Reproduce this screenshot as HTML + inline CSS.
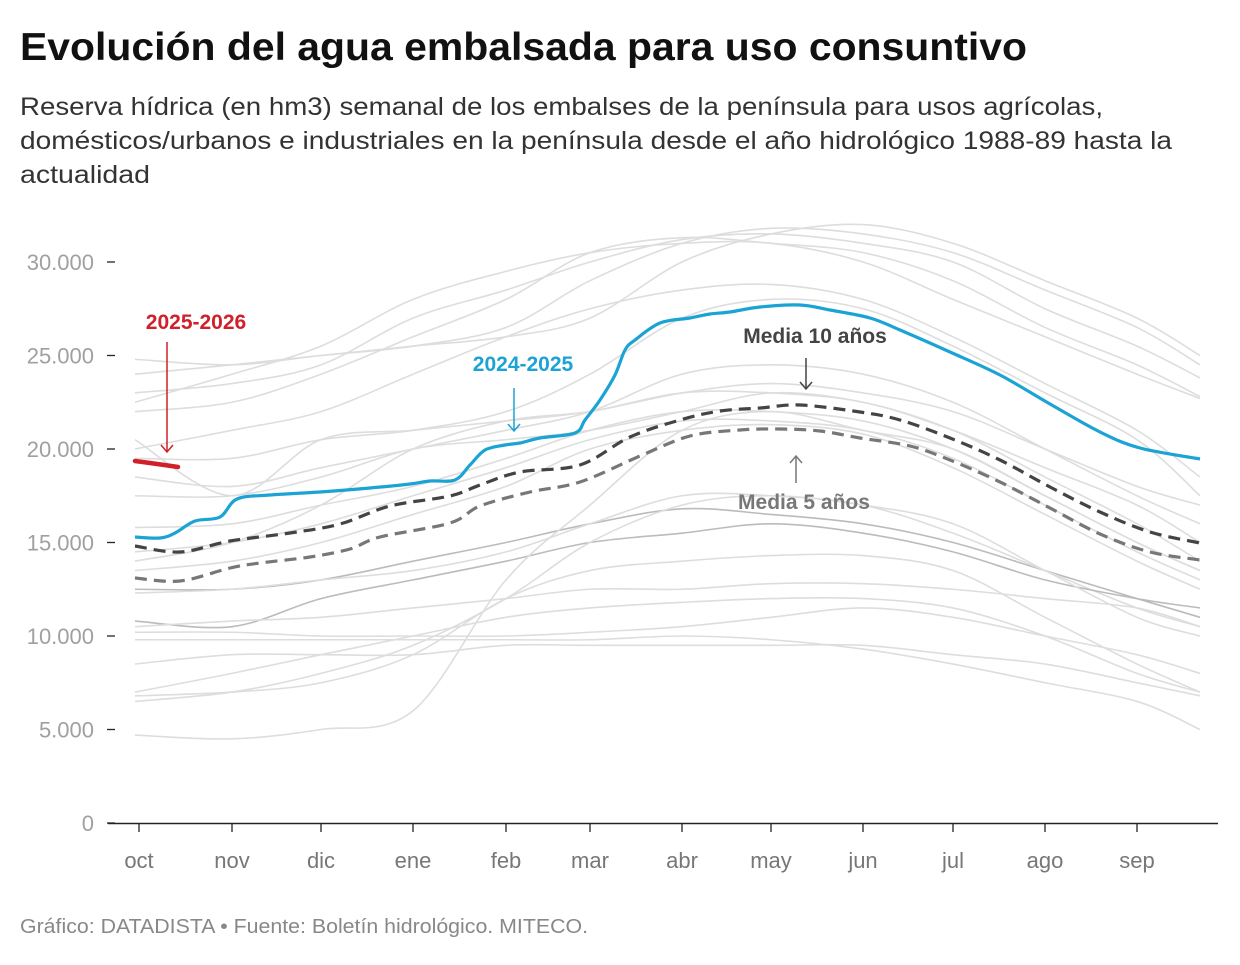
<!DOCTYPE html>
<html><head><meta charset="utf-8"><style>
body{margin:0;background:#fff;width:1240px;height:960px;overflow:hidden;font-family:"Liberation Sans",Arial,sans-serif}
</style></head><body>
<svg id="s" width="1240" height="960" xmlns="http://www.w3.org/2000/svg" font-family="Liberation Sans, Arial, sans-serif">
<text x="20" y="60" font-size="39" font-weight="bold" fill="#111" textLength="1007" lengthAdjust="spacingAndGlyphs">Evolución del agua embalsada para uso consuntivo</text>
<text font-size="25" fill="#333"><tspan x="20" y="115" textLength="1083" lengthAdjust="spacingAndGlyphs">Reserva hídrica (en hm3) semanal de los embalses de la península para usos agrícolas,</tspan><tspan x="20" y="149" textLength="1152" lengthAdjust="spacingAndGlyphs">domésticos/urbanos e industriales en la península desde el año hidrológico 1988-89 hasta la</tspan><tspan x="20" y="183" textLength="130" lengthAdjust="spacingAndGlyphs">actualidad</tspan></text>
<g id="yax" font-size="22" fill="#a0a0a0" text-anchor="end"></g>
<g id="grey" fill="none" stroke-width="1.6"></g>
<g id="main" fill="none"></g>
<line x1="108" y1="823.5" x2="1218" y2="823.5" stroke="#222" stroke-width="1.5"/>
<g id="xax" font-size="22" fill="#777" text-anchor="middle"></g>
<g font-weight="bold" font-size="21" text-anchor="middle">
<text x="196" y="329" fill="#d0202a">2025-2026</text>
<text x="523" y="371" fill="#1ba3d4">2024-2025</text>
<text x="815" y="343" fill="#444">Media 10 años</text>
<text x="804" y="509" fill="#777">Media 5 años</text>
</g>
<g fill="none" stroke-width="1.5">
<path d="M167 342V452M161 445L167 452L173 445" stroke="#d0202a"/>
<path d="M514 388V431M508 424L514 431L520 424" stroke="#1ba3d4"/>
<path d="M806 358V389M800 382L806 389L812 382" stroke="#444"/>
<path d="M796 483V456M790 463L796 456L802 463" stroke="#777"/>
</g>
<text x="20" y="933" font-size="20" fill="#888" textLength="568" lengthAdjust="spacingAndGlyphs">Gráfico: DATADISTA • Fuente: Boletín hidrológico. MITECO.</text>
</svg>
<script>
const NS="http://www.w3.org/2000/svg";
function el(p,t,a,txt){const e=document.createElementNS(NS,t);for(const k in a)e.setAttribute(k,a[k]);if(txt!=null)e.textContent=txt;p.appendChild(e);return e;}
const Y=v=>823-v*18.7;
const yax=document.getElementById('yax');
[0,5,10,15,20,25,30].forEach(v=>{const y=Y(v);el(yax,'text',{x:94,y:y+8},v?v+'.000':'0');el(document.getElementById('s'),'line',{x1:107,x2:115,y1:y,y2:y,stroke:'#222','stroke-width':1.3});});
const MX=[139,232,321,413,506,590,682,771,863,953,1045,1137,1200];
const ML=['oct','nov','dic','ene','feb','mar','abr','may','jun','jul','ago','sep'];
const xax=document.getElementById('xax'),svg=document.getElementById('s');
ML.forEach((m,i)=>{el(xax,'text',{x:MX[i],y:868},m);el(svg,'line',{x1:MX[i],x2:MX[i],y1:824,y2:832,stroke:'#222','stroke-width':1.3});});
function cr(pts){let d='M'+pts[0][0]+' '+pts[0][1];for(let i=0;i<pts.length-1;i++){const p0=pts[i-1]||pts[i],p1=pts[i],p2=pts[i+1],p3=pts[i+2]||p2;
d+=` C${p1[0]+(p2[0]-p0[0])/6} ${p1[1]+(p2[1]-p0[1])/6} ${p2[0]-(p3[0]-p1[0])/6} ${p2[1]-(p3[1]-p1[1])/6} ${p2[0]} ${p2[1]}`;}return d;}
const G=[[24.8,24.5,25,25.5,26,27,30,31.5,32,31,29,27,25],[24,24.5,25,25.5,26.5,29,31,31.8,31.5,30.5,28.5,26.5,24.5],[23,23.5,24.5,27,28.5,30,31.2,31.5,31,30,27.5,25.5,23.8],[22,22.5,24,26,28,30.5,31.3,31,30.5,29,26.5,24.5,22.8],[20,21,22,24,26,27.5,28.5,28.8,28,26,23.5,21,18.5],[19.5,19.5,20.5,21,22,24,27,28,27.5,25.5,23,20.5,17.5],[18.5,18,19,20,21,22,24,24.5,24,22.5,20,17.5,16],[17.5,17.5,18.5,20,20.5,21,22,23,22.5,21,18.5,16,14],[15.8,16,17,18,19.5,21,22,22,21.5,20,17.5,15,13.5],[14.5,15,16,17.5,19,20.5,21.5,21.5,21,19.5,17,14.5,13],[13.5,14,15,16.5,18,20,21,21.3,20.8,19,16.5,14,12.5],[12.5,12.5,13,14,15,16,16.8,16.5,16,15,13.5,12,11],[12.3,12.5,13,13.5,14.5,16,17.5,17.5,17,15.5,13.5,11.5,10.5],[10.8,10.5,12,13,14,15,15.5,16,15.5,14.5,13,12,11.5],[10.5,10.8,11,11.5,12,12.5,12.5,12.8,12.8,12.5,12,11.5,10.5],[10.2,10.2,10,10,10,10.2,10.5,11,11.5,11,10,9,8],[9.8,9.8,9.8,9.8,9.8,9.8,10,9.8,9.3,8.5,7.5,6.5,5],[8.5,9,9,9,9.5,9.5,9.5,9.5,9.5,9,8.5,7.5,6.8],[7,8,9,10,11,11.5,11.8,12,12,11.5,10,8,7],[6.8,7,7.5,9,12,13.5,14,14.3,14.3,13.5,11,8.5,7],[6.5,7,8,9.5,12,15,17,17.5,17,16,13.5,11,10],[4.7,4.5,5,6,13,17,21,22,21,20,17.5,15,13.5],[14,15,17,20,21.5,22,23,23,22.5,21,19,17,15],[20.5,17.5,20.5,21,21.5,22,23,23.5,23,22,20,18,17],[22.5,24,25.5,28,29.5,30.5,31,31,30,28,26,24,22.7]];
const grey=document.getElementById('grey');
G.forEach((a,i)=>{const pts=a.map((v,j)=>[j?MX[j]:135,Y(v)]);el(grey,'path',{d:cr(pts),stroke:(i==11||i==13)?'#bbb':'#ddd'});});
const main=document.getElementById('main');
const g5=[[135,578],[180,581],[230,568],[260,563],[310,557],[350,549],[380,537],[450,523],[480,506],[530,492],[580,482],[640,456],[690,436],[740,430],[780,429],[820,431],[860,438],[910,446],[950,460],[1000,482],[1050,508],[1100,534],[1150,552],[1200,560]];
const g10=[[135,546],[180,552],[230,541],[290,533],[340,524],[390,506],[450,496],[480,485],[520,472],[580,465],[630,437],[680,420],[720,411],[760,408],[800,405],[860,412],[900,420],[950,438],[1000,460],[1050,487],[1100,512],[1150,532],[1200,543]];
const bl=[[135,537],[160,538],[175,533],[195,521],[220,517],[237,499],[270,495],[320,492],[370,488],[410,484],[430,481],[455,480],[470,465],[485,450],[505,445],[520,443],[540,438],[575,433],[585,420],[600,400],[615,375],[625,350],[635,340],[660,323],[690,318],[710,314],[730,312],[760,307],[800,305],[830,310],[870,318],[900,330],[950,352],[1000,375],[1050,404],[1100,432],[1140,448],[1200,459]];
el(main,'path',{d:cr(g5),stroke:'#777','stroke-width':3.2,'stroke-dasharray':'12 7'});
el(main,'path',{d:cr(g10),stroke:'#444','stroke-width':3.2,'stroke-dasharray':'12 7'});
el(main,'path',{d:cr(bl),stroke:'#1ba3d4','stroke-width':3.2});
el(main,'path',{d:'M135 461 Q158 464 178 467',stroke:'#d0202a','stroke-width':4.5,'stroke-linecap':'round'});
</script>
</body></html>
